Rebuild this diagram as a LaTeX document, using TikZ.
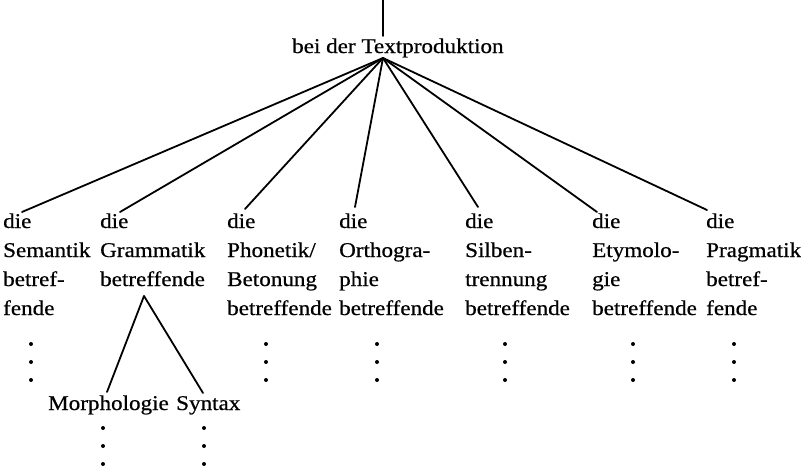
\documentclass[tikz,border=0pt]{standalone}
\usepackage{fontspec}
\setmainfont{Liberation Serif}[FakeStretch=1.1,FakeBold=0.6]
\begin{document}
\begin{tikzpicture}[x=1pt,y=-1pt,
  txt/.style={inner sep=0pt, anchor=base west, align=left, font=\fontsize{21}{29}\selectfont},
  branch/.style={line width=1.8pt, line cap=round},
  dotfill/.style={fill=black}]
\useasboundingbox (0,0) rectangle (801,471);

% root text
\node[txt] (top) at (292,53) {bei der Textproduktion};

% columns (anchored at the baseline of their last line)
\node[txt] (c1) at (3,315)   {die\\Semantik\\betref-\\fende};
\node[txt] (c2) at (100,286) {die\\Grammatik\\betreffende};
\node[txt] (c3) at (227,315) {die\\Phonetik/\\Betonung\\betreffende};
\node[txt] (c4) at (339,315) {die\\Orthogra-\\phie\\betreffende};
\node[txt] (c5) at (465,315) {die\\Silben-\\trennung\\betreffende};
\node[txt] (c6) at (592,315) {die\\Etymolo-\\gie\\betreffende};
\node[txt] (c7) at (706,315) {die\\Pragmatik\\betref-\\fende};

\node[txt] (morph) at (48,410) {Morphologie};
\node[txt] (syn) at (176,410) {Syntax};

% connector points
\coordinate (root) at (383,0);
\coordinate (rootin) at (383,36);
\coordinate (apex) at (383,58);
\coordinate (e1) at (22,212);
\coordinate (e2) at (120,212);
\coordinate (e3) at (245,209);
\coordinate (e4) at (355,207);
\coordinate (e5) at (478,207);
\coordinate (e6) at (597,212);
\coordinate (e7) at (707,210);
\coordinate (gapex) at (144,296);
\coordinate (em) at (107,392);
\coordinate (es) at (203,393);

\draw[branch] (root) -- (rootin);
\foreach \e in {e1,e2,e3,e4,e5,e6,e7} \draw[branch] (apex) -- (\e);
\draw[branch] (gapex) -- (em);
\draw[branch] (gapex) -- (es);

% continuation dots
\foreach \x in {31,266,377,505,633,734}
  \foreach \y in {344,362,380}
    \fill[dotfill] (\x,\y) circle (2pt);
\foreach \x in {103,204}
  \foreach \y in {428,446,464}
    \fill[dotfill] (\x,\y) circle (2pt);
\end{tikzpicture}
\end{document}
